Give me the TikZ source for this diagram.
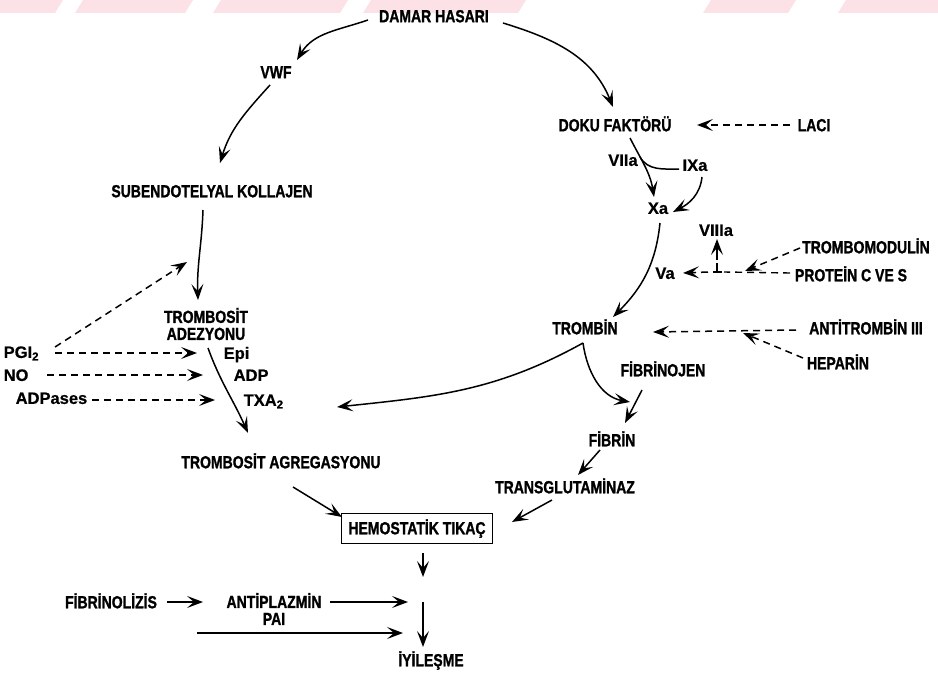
\documentclass[tikz,border=0pt]{standalone}
\usepackage{fontspec}
\setmainfont{Liberation Sans}[FakeStretch=0.8, BoldFeatures={FakeBold=1.2}]
\newfontfamily\widefont{Liberation Sans}[BoldFeatures={FakeBold=0.6}]
\usetikzlibrary{arrows.meta}
\definecolor{wm}{RGB}{252,226,231}
\begin{document}
\begin{tikzpicture}[x=1pt,y=-1pt,
  lbl/.style={font=\fontsize{17.5}{19}\selectfont\bfseries, inner sep=0.5pt, text height=12.5pt, text depth=0pt},
  lbl2/.style={font=\fontsize{17.5}{17}\selectfont\bfseries, inner sep=0.5pt, align=center},
  wlbl/.style={font=\widefont\fontsize{16.5}{18}\selectfont\bfseries, inner sep=0.5pt, text height=11.8pt, text depth=0pt},
  arr/.style={line width=1.5pt, -{Stealth[length=16pt,width=12pt,inset=7pt]}},
  darr/.style={arr, dash pattern=on 7pt off 5pt},
  dln/.style={line width=1.4pt, dash pattern=on 7pt off 5pt},
  ln/.style={line width=1.5pt}]
\useasboundingbox (0,0) rectangle (938,677);
\fill[white] (0,0) rectangle (938,677);
% faint watermark stripes at the top
\foreach \a/\b in {-12/55,75/185,213/340,363/518,703/788,838/950}
  \fill[wm] (\a+8,0) -- (\b+8,0) -- (\b,13) -- (\a,13) -- cycle;

% nodes
\node[lbl] (damar) at (434,16) {DAMAR HASARI};
\node[lbl] (vwf) at (276,72) {VWF};
\node[lbl] (subendo) at (212,191) {SUBENDOTELYAL KOLLAJEN};
\node[lbl2] (adez) at (206,324) {TROMBOSİT\\ADEZYONU};
\node[lbl] (agreg) at (281,462) {TROMBOSİT AGREGASYONU};
\node[wlbl,anchor=west] (pgi) at (3,352) {PGI\textsubscript{2}};
\node[wlbl,anchor=west] (no) at (3,375) {NO};
\node[wlbl,anchor=west] (adpases) at (15,398) {ADPases};
\node[wlbl,anchor=west] (epi) at (223,353) {Epi};
\node[wlbl,anchor=west] (adp) at (233,375) {ADP};
\node[wlbl,anchor=west] (txa) at (243,400) {TXA\textsubscript{2}};
\node[lbl] (doku) at (615,125) {DOKU FAKTÖRÜ};
\node[lbl] (laci) at (814,125) {LACI};
\node[wlbl] (viia) at (623,160) {VIIa};
\node[wlbl] (ixa) at (695,165) {IXa};
\node[wlbl] (xa) at (658,208) {Xa};
\node[wlbl] (viiia) at (716,230) {VIIIa};
\node[wlbl] (va) at (665,273) {Va};
\node[lbl] (tmod) at (866,247) {TROMBOMODULİN};
\node[lbl] (protein) at (851,275) {PROTEİN C VE S};
\node[lbl] (tromb) at (585,328) {TROMBİN};
\node[lbl] (anti) at (866,328) {ANTİTROMBİN III};
\node[lbl] (hep) at (838,363) {HEPARİN};
\node[lbl] (fibrinojen) at (663,370) {FİBRİNOJEN};
\node[lbl] (fibrin) at (612,440) {FİBRİN};
\node[lbl] (transg) at (565,487) {TRANSGLUTAMİNAZ};
\node[lbl, draw, line width=0.8pt, minimum width=151pt, minimum height=30pt] (box) at (417,528) {HEMOSTATİK TIKAÇ};
\node[lbl] (fibrinolizis) at (111,602) {FİBRİNOLİZİS};
\node[lbl2] (antip) at (274,609) {ANTİPLAZMİN\\PAI};
\node[lbl] (iyi) at (431,660) {İYİLEŞME};

% free ends
\coordinate (vbr) at (640,157);
\coordinate (inh) at (717,272);
\coordinate (jp) at (745,271);
\coordinate (jh) at (743,333);
\coordinate (pgiup) at (187,262);
\coordinate (boxend) at (423,577);
\coordinate (down2) at (423,602);
\coordinate (antend) at (408,602);
\coordinate (bstart) at (197,633);
\coordinate (bend) at (403,633);

% platelet branch
\draw[arr] ([shift={(-66,4)}]damar.center) to[out=199,in=59] ([shift={(21,-12)}]vwf.center);
\draw[arr] ([shift={(-6,13)}]vwf.center) to[out=228,in=73] ([shift={(8,-28)}]subendo.center);
\draw[arr] ([shift={(-9,19)}]subendo.center) to[out=-92,in=92] ([shift={(-8,-24)}]adez.center);
\draw[arr] ([shift={(2,24)}]adez.center) to[out=-70,in=114] ([shift={(-33,-29)}]agreg.center);
\draw[darr] ([shift={(52,-5)}]pgi.west) -- (pgiup);
\draw[darr] ([shift={(52,1)}]pgi.west) -- ([shift={(-26,0)}]epi.west);
\draw[darr] ([shift={(44,0)}]no.west) -- ([shift={(-30,0)}]adp.west);
\draw[darr] ([shift={(77,2)}]adpases.west) -- ([shift={(-28,0)}]txa.west);

% coagulation branch
\draw[arr] ([shift={(69,7)}]damar.center) to[out=-17,in=112] ([shift={(-2,-18)}]doku.center);
\draw[darr] ([shift={(-24,0)}]laci.center) -- ([shift={(82,0)}]doku.center);
\draw[arr] ([shift={(15,13)}]doku.center) to[out=-63,in=99] ([shift={(-4,-11)}]xa.center);
\draw[ln] (vbr) to[out=-60,in=180] ([shift={(-16,4)}]ixa.center);
\draw[arr] ([shift={(7,12)}]ixa.center) to[out=-96,in=27] ([shift={(15,4)}]xa.center);
\draw[arr] ([shift={(2,15)}]xa.center) to[out=-96,in=45] ([shift={(28,-11)}]tromb.center);
\draw[ln] ([shift={(0,-9)}]inh) -- (inh) ([shift={(-4,0)}]inh) -- ([shift={(5,0)}]inh);
\draw[arr] ([shift={(0,-12)}]inh) -- ([shift={(1,9)}]viiia.center);
\draw[darr] ([shift={(-9,0)}]inh) -- ([shift={(18,0)}]va.center);
\draw[dln] ([shift={(-61,-2)}]protein.center) -- ([shift={(7,0)}]inh);
\draw[darr] ([shift={(-66,1)}]tmod.center) -- (jp);
\draw[darr] ([shift={(-70,2)}]anti.center) -- ([shift={(68,4)}]tromb.center);
\draw[darr] ([shift={(-35,-5)}]hep.center) -- (jh);
\draw[arr] ([shift={(-2,15)}]tromb.center) to[out=209,in=6] ([shift={(94,7)}]txa.west);
\draw[arr] ([shift={(-2,15)}]tromb.center) to[out=-82,in=170] ([shift={(18,-38)}]fibrin.center);
\draw[arr] ([shift={(-21,20)}]fibrinojen.center) -- ([shift={(13,-17)}]fibrin.center);
\draw[arr] ([shift={(-12,10)}]fibrin.center) -- ([shift={(13,-12)}]transg.center);
\draw[arr] ([shift={(-13,13)}]transg.center) -- ([shift={(95,-6)}]box.center);
\draw[arr] ([shift={(12,25)}]agreg.center) -- ([shift={(-75,-11)}]box.center);

% outcome
\draw[arr] ([shift={(6,10)}]box.south) -- (boxend);
\draw[arr] (down2) -- ([shift={(-8,-13)}]iyi.center);
\draw[arr] ([shift={(56,0)}]fibrinolizis.center) -- ([shift={(-71,-7)}]antip.center);
\draw[arr] ([shift={(56,-7)}]antip.center) -- (antend);
\draw[arr] (bstart) -- (bend);
\end{tikzpicture}
\end{document}
